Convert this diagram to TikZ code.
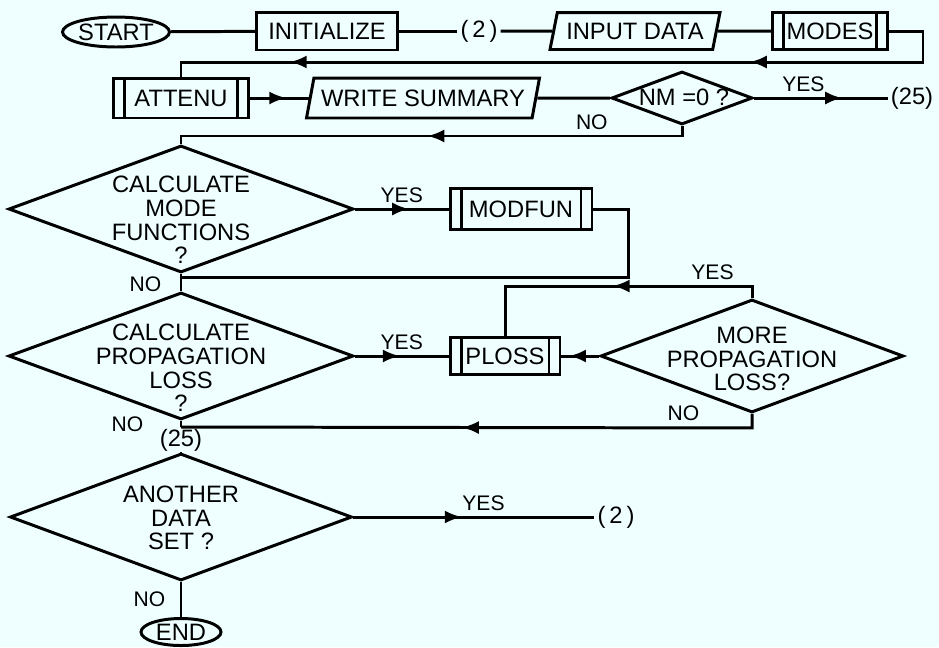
\documentclass[tikz,border=0pt]{standalone}
\usepackage{fontspec}
\setmainfont{Liberation Sans}
\usepackage{tikz}
\usetikzlibrary{shapes.geometric, arrows.meta, decorations.markings}
\definecolor{paper}{HTML}{EFFFFF}
\newcommand{\flowfont}{\fontsize{13.5}{13.4}\selectfont}
\newcommand{\notefont}{\fontsize{12}{12}\selectfont}

\begin{document}
\begin{tikzpicture}[
    x=0.02cm, y=-0.02cm,
    line width=1.7pt,
    box/.style={rectangle, draw, minimum height=0.76cm, inner sep=2pt, font=\flowfont},
    term/.style={ellipse, draw, minimum width=2.14cm, minimum height=0.6cm, inner xsep=-1pt, inner ysep=0pt, font=\flowfont},
    iobox/.style={trapezium, trapezium left angle=70, trapezium right angle=110, trapezium stretches body, draw, minimum height=0.76cm, inner sep=1pt, font=\flowfont},
    subr/.style={box, path picture={
        \draw ([xshift=0.22cm]path picture bounding box.north west) -- ([xshift=0.22cm]path picture bounding box.south west);
        \draw ([xshift=-0.22cm]path picture bounding box.north east) -- ([xshift=-0.22cm]path picture bounding box.south east);}},
    decision/.style={diamond, draw, inner sep=0pt},
    dtext/.style={align=center, inner sep=0pt, font=\flowfont},
    jump/.style={inner sep=1pt, font=\flowfont},
    lbl/.style={inner sep=3pt, font=\notefont},
    flow/.style={postaction={decorate, decoration={markings, mark=at position #1 with {\arrow{Latex[length=0.34cm, width=0.26cm]}}}}}
]
\path[use as bounding box, fill=paper] (0,0) rectangle (939,647);

% top row
\node[term] (start) at (116,32) {START};
\node[box, minimum width=2.82cm] (init) at (327,31) {INITIALIZE};
\node[jump] (go2) at (479,31) {(\,2\,)};
\node[iobox, minimum width=3.4cm, minimum height=0.74cm] (input) at (635,31) {INPUT DATA};
\node[subr, minimum width=2.3cm, minimum height=0.74cm] (modes) at (830,31) {MODES};

% second row
\node[subr, minimum width=2.7cm, minimum height=0.8cm] (attenu) at (181,98) {ATTENU};
\node[iobox, minimum width=4.66cm, minimum height=0.8cm] (summary) at (423,98) {WRITE SUMMARY};
\node[decision, minimum width=2.82cm, minimum height=1.06cm] (nmzero) at (682,98) {};
\node[dtext] (nmzerotxt) at (684,97) {NM =0 ?};
\node[jump] (go25) at (912,98) {(25)};

% mode functions
\node[decision, minimum width=6.9cm, minimum height=2.54cm] (calcmode) at (181,209) {};
\node[dtext] (calcmodetxt) at (181,220) {CALCULATE\\MODE\\FUNCTIONS\\?};
\node[subr, minimum width=2.84cm, minimum height=0.82cm] (modfun) at (521,209) {MODFUN};
\coordinate (join1) at (181,277);

% propagation loss
\node[decision, minimum width=6.9cm, minimum height=2.54cm] (calcprop) at (181,356) {};
\node[dtext] (calcproptxt) at (181,368) {CALCULATE\\PROPAGATION\\LOSS\\?};
\node[subr, minimum width=2.2cm, minimum height=0.74cm] (ploss) at (505,356) {PLOSS};
\node[decision, minimum width=6.06cm, minimum height=2.26cm] (more) at (752,356) {};
\node[dtext] (moretxt) at (752,359) {MORE\\PROPAGATION\\LOSS?};
\coordinate (join2) at (181,427);
\node[jump] (at25) at (181,440) {(25)};

% another data set
\node[decision, minimum width=6.84cm, minimum height=2.54cm] (another) at (181,517) {};
\node[dtext] (anothertxt) at (181,518) {ANOTHER\\DATA\\SET ?};
\node[jump] (go2b) at (616,517) {(\,2\,)};
\node[term, minimum width=1.6cm, minimum height=0.54cm] (theend) at (181,632) {END};

% connectors
\draw (start) -- (init);
\draw (init) -- (go2);
\draw (go2) -- (input);
\draw (input) -- (modes);
\draw[flow=0.29, flow=0.85] (modes.east) -- ++(34,0) -- ++(0,31) -| (attenu.north);
\draw[flow=0.62] (attenu) -- (summary);
\draw (summary) -- (nmzero);
\draw[flow=0.66] (nmzero) -- node[lbl, above, pos=0.37] {YES} (go25);
\draw[flow=0.51] (nmzero.south) -- ++(0,10) -| node[lbl, above, pos=0.09] {NO} (calcmode.north);
\draw[flow=0.58] (calcmode) -- node[lbl, above] {YES} (modfun);
\draw (modfun.east) -- ++(35,0) |- (join1);
\draw (calcmode.south) -- (join1) -- node[lbl, left=0.26cm] {NO} (calcprop.north);
\draw[flow=0.48] (calcprop) -- node[lbl, above] {YES} (ploss);
\draw[flow=0.8] (more) -- (ploss);
\draw[flow=0.49] (more.north) -- ++(0,-12) -| node[lbl, above, pos=0.08] {YES} (ploss.north);
\draw[flow=0.52] (more.south) -- ++(0,14) -- node[lbl, above, pos=0.12] {NO} (join2);
\draw (calcprop.south) -- node[lbl, left=0.62cm] {NO} (join2) -- (at25) -- (another);
\draw[flow=0.45] (another) -- node[lbl, above, pos=0.54] {YES} (go2b);
\draw (another) -- node[lbl, left=0.18cm] {NO} (theend);

\end{tikzpicture}
\end{document}
